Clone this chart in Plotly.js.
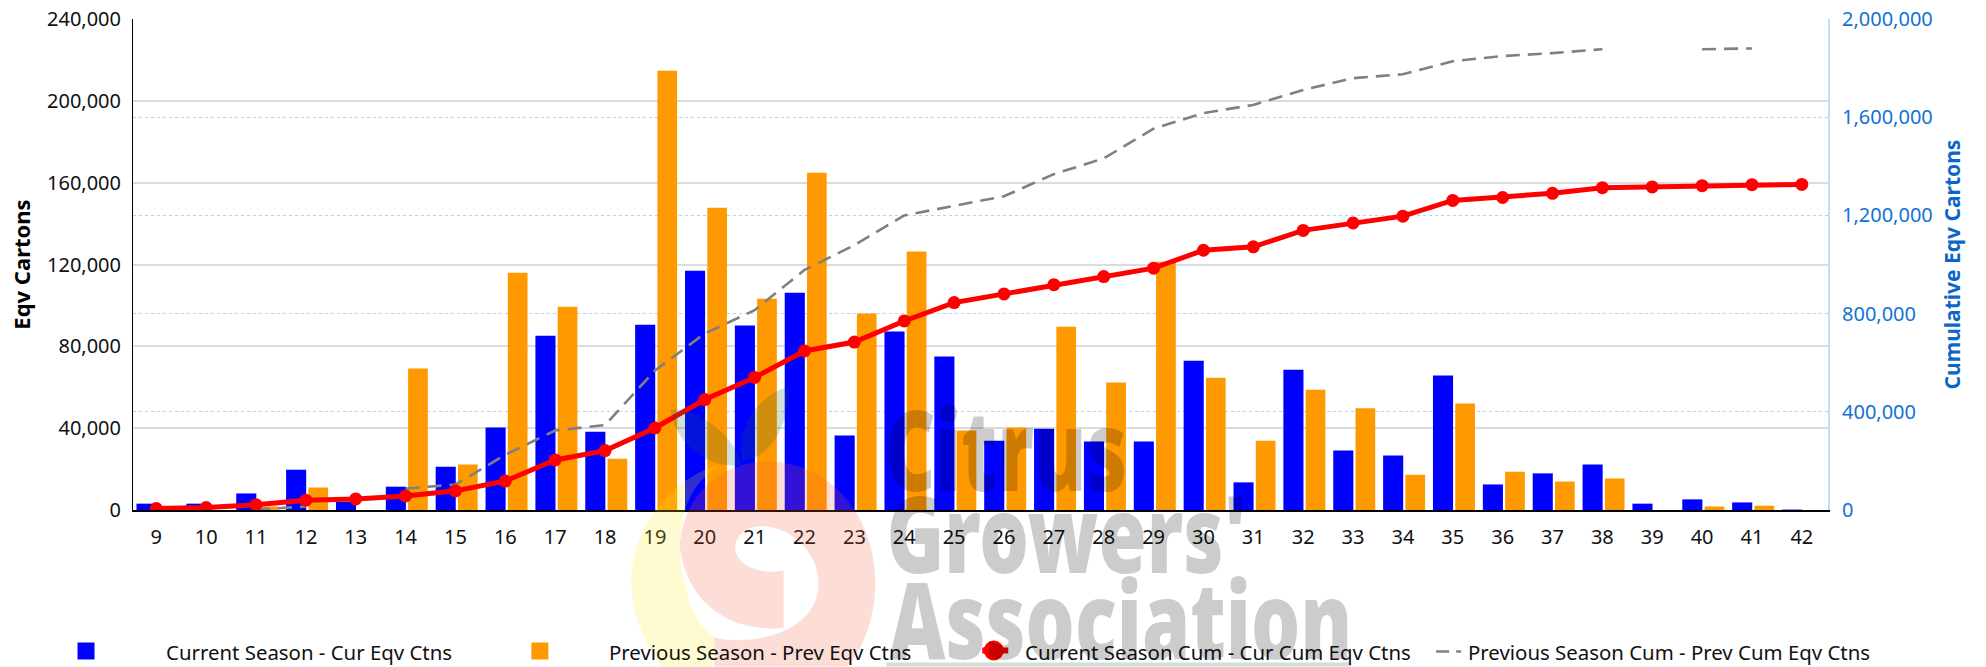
<!DOCTYPE html>
<html><head><meta charset="utf-8">
<script src="https://cdn.plot.ly/plotly-3.0.1.min.js"></script>
<style>html,body{margin:0;padding:0;background:#fff;overflow:hidden}#c{width:1986px;height:667px}</style>
</head><body><div id="c"></div>
<script>
const weeks=[9,10,11,12,13,14,15,16,17,18,19,20,21,22,23,24,25,26,27,28,29,30,31,32,33,34,35,36,37,38,39,40,41,42];
const curEqv=[3100,3100,8100,19700,4000,11400,21200,40300,85200,38200,90600,117000,90200,106200,36400,87300,75000,33900,39700,33500,33500,72900,13500,68600,29100,26600,65700,12500,17900,22200,3100,5200,3700,200];
const prevEqv=[0,0,1700,11000,0,69200,22200,116000,99300,25100,214700,147700,103300,164800,96000,126300,38900,40300,89600,62300,121400,64600,33900,58800,49700,17200,52000,18700,13900,15400,0,1700,2100,0];
const curCum=[6000,10000,21000,40000,45000,57000,78000,118000,204000,242000,334000,450000,540000,648000,684000,770000,845000,880000,918000,951000,985000,1058000,1072000,1139000,1169000,1197000,1261000,1273000,1290000,1313000,1316000,1321000,1325000,1326000];
const prevCum=[null,null,2000,14000,null,87000,104000,225000,324000,346000,568000,719000,814000,978000,1079000,1200000,1238000,1278000,1368000,1432000,1553000,1617000,1650000,1711000,1759000,1775000,1828000,1849000,1861000,1877000,null,1877000,1880000,null];
const leftTicks=[0,40000,80000,120000,160000,200000,240000];
const rightTicks=[0,400000,800000,1200000,1600000,2000000];
const names=['Current Season - Cur Eqv Ctns','Previous Season - Prev Eqv Ctns','Current Season Cum - Cur Cum Eqv Ctns','Previous Season Cum - Prev Cum Eqv Ctns'];
const FONT='"Noto Sans", sans-serif';
const W=1986,H=667,L=132.5,R=1828,T=19,B=510.4;
const px=x=>(x-L)/(R-L), py=y=>(B-y)/(B-T);
const P=s=>s.replace(/(-?[\d.]+),(-?[\d.]+)/g,(m,a,b)=>px(+a).toFixed(5)+','+py(+b).toFixed(5));
const pshape=(path,fill)=>({type:'path',layer:'above',xref:'paper',yref:'paper',path:P(path),fillcolor:fill,line:{width:0}});
const pRect=(x0,y0,x1,y1,fill)=>({type:'rect',layer:'above',xref:'paper',yref:'paper',x0:px(x0),x1:px(x1),y0:py(y0),y1:py(y1),fillcolor:fill,line:{width:0}});
const pCirc=(cx,cy,rx,ry,fill)=>({type:'circle',layer:'above',xref:'paper',yref:'paper',x0:px(cx-rx),x1:px(cx+rx),y0:py(cy+ry),y1:py(cy-ry),fillcolor:fill,line:{width:0}});
const z=(x,y)=>(620+x/3).toFixed(1)+','+(380+y/3).toFixed(1);
const legendShapes=[
 pRect(77,643,94,660,'#0000ff'),
 pRect(531,643,548,660,'#ff9900'),
 pRect(982,648,1008,654,'#ff0000'),
 pCirc(993.5,651,10,10,'#ff0000'),
 {type:'line',layer:'above',xref:'paper',yref:'paper',x0:px(1436),x1:px(1449),y0:py(652),y1:py(652),line:{color:'#808080',width:2.5}},
 {type:'line',layer:'above',xref:'paper',yref:'paper',x0:px(1456),x1:px(1461),y0:py(652),y1:py(652),line:{color:'#808080',width:2.5}}
];
const PINK='rgba(245,90,50,0.2)',YEL='rgba(250,235,20,0.2)',GRN='rgba(20,100,60,0.2)';
const pinkPath='M '+z(178,500)+' C '+z(190,330)+' '+z(320,245)+' '+z(440,245)+' C '+z(620,245)+' '+z(765,400)+' '+z(765,610)+' C '+z(765,730)+' '+z(720,820)+' '+z(680,861)+' L '+z(282,861)+' L '+z(282,775)+' C '+z(400,800)+' '+z(595,760)+' '+z(595,610)+' C '+z(595,520)+' '+z(510,440)+' '+z(425,440)+' C '+z(375,440)+' '+z(345,470)+' '+z(345,505)+' C '+z(345,555)+' '+z(420,590)+' '+z(490,572)+' L '+z(490,745)+' C '+z(340,760)+' '+z(200,680)+' '+z(178,500)+' Z';
const yelPath='M '+z(33,600)+' C '+z(33,440)+' '+z(160,290)+' '+z(300,255)+' C '+z(210,310)+' '+z(178,400)+' '+z(178,500)+' C '+z(178,560)+' '+z(190,590)+' '+z(195,610)+' C '+z(205,690)+' '+z(240,740)+' '+z(282,775)+' L '+z(278,861)+' L '+z(125,861)+' C '+z(70,790)+' '+z(33,700)+' '+z(33,600)+' Z';
const leafL='M '+z(150,90)+' C '+z(240,85)+' '+z(340,170)+' '+z(365,255)+' C '+z(280,270)+' '+z(170,210)+' '+z(150,90)+' Z';
const leafR='M '+z(368,245)+' C '+z(340,170)+' '+z(400,50)+' '+z(505,20)+' C '+z(510,120)+' '+z(460,230)+' '+z(368,245)+' Z';
const wmShapes=[pshape(yelPath,YEL),pshape(pinkPath,PINK),pshape(leafL,GRN),pshape(leafR,GRN),pRect(886,663,1351,667,GRN)];
const txt=(x,y,text,size)=>({xref:'paper',yref:'paper',x:px(x),y:py(y),xanchor:'left',yanchor:'middle',text,showarrow:false,font:{family:FONT,size:size||20.4,color:'#111'}});
const wmText=(cx,y,text,size)=>({xref:'paper',yref:'paper',x:px(cx),y:py(y),xanchor:'center',yanchor:'middle',text,showarrow:false,
  font:{family:'"Noto Sans",sans-serif',size,weight:900,color:'rgba(0,0,0,0.2)'}});
const wmLengths={'Citrus':242,"Growers'":360,'Association':463};
const annotations=[
 txt(164,653,names[0]),txt(607,653,names[1]),txt(1023,653,names[2]),txt(1466,653,names[3]),
 wmText(1006,448,'Citrus',112),wmText(1066,532,"Growers'",106),wmText(1120,618,'Association',106)
];
const traces=[
 {type:'bar',name:names[0],x:weeks,y:curEqv,width:0.403,offset:-0.397,marker:{color:'#0000ff',line:{width:0}},yaxis:'y'},
 {type:'bar',name:names[1],x:weeks,y:prevEqv,width:0.395,offset:0.05,marker:{color:'#ff9900',line:{width:0}},yaxis:'y'},
 {type:'scatter',mode:'lines',name:names[3],x:weeks,y:prevCum,yaxis:'y2',connectgaps:false,line:{color:'#808080',width:2.6,dash:'14px,8px'}},
 {type:'scatter',mode:'lines+markers',name:names[2],x:weeks,y:curCum,yaxis:'y2',line:{color:'#ff0000',width:5},marker:{color:'#ff0000',size:13}}
];
const layout={
 width:W,height:H,margin:{l:L,r:W-R,t:T,b:H-B,pad:0},paper_bgcolor:'#fff',plot_bgcolor:'#fff',showlegend:false,
 barmode:'overlay',
 font:{family:FONT,size:20,color:'#111'},
 xaxis:{type:'linear',range:[8.533,42.525],tickmode:'array',tickvals:weeks,ticktext:weeks.map(String),showgrid:false,zeroline:false,showline:true,linecolor:'#000',linewidth:1.5,ticks:'outside',ticklen:8,tickcolor:'rgba(0,0,0,0)',tickfont:{family:FONT,size:20,color:'#111'}},
 yaxis:{range:[0,240000],tickmode:'array',tickvals:leftTicks,tickformat:',d',showgrid:true,gridcolor:'#dcdcdc',gridwidth:2,zeroline:false,showline:true,linecolor:'#000',linewidth:1,ticks:'outside',ticklen:7,tickcolor:'rgba(0,0,0,0)',tickfont:{family:FONT,size:20,color:'#111'},
  title:{text:'Eqv Cartons',standoff:10,font:{family:FONT,size:22,weight:700,color:'#000'}}},
 yaxis2:{overlaying:'y',side:'right',range:[0,2000000],tickmode:'array',tickvals:rightTicks,tickformat:',d',showgrid:true,griddash:'dot',gridcolor:'#a9d5fa',gridwidth:1,zeroline:false,showline:true,linecolor:'#c3dff7',linewidth:2,ticks:'outside',ticklen:8,tickcolor:'rgba(0,0,0,0)',tickfont:{family:FONT,size:20,color:'#1272d6'},
  title:{text:'Cumulative Eqv Cartons',standoff:13,font:{family:FONT,size:21,weight:700,color:'#0a66c8'}}},
 shapes:legendShapes.concat(wmShapes),
 annotations
};
Plotly.newPlot('c',traces,layout,{displayModeBar:false,staticPlot:true}).then(gd=>{
  gd.querySelectorAll('.annotation-text').forEach(t=>{
    const n=wmLengths[t.textContent];
    if(n){t.setAttribute('textLength',n);t.setAttribute('lengthAdjust','spacingAndGlyphs');}
  });
});
</script></body></html>
